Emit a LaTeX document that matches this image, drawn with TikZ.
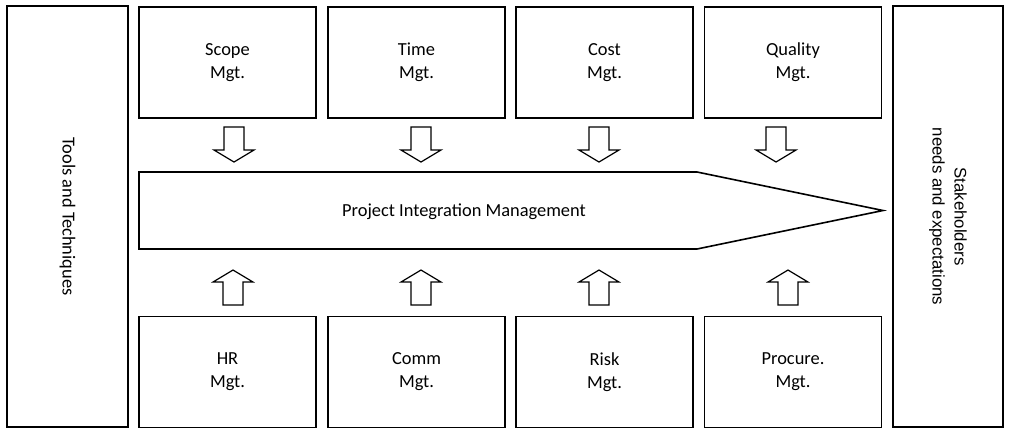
\documentclass[tikz,border=0pt]{standalone}
\usepackage{fontspec}
\setmainfont{Carlito}
\newfontfamily\stakefont{Liberation Sans}
\usetikzlibrary{positioning}

\begin{document}
\begin{tikzpicture}[
    x=0.75pt, y=-0.75pt,
    mgtbox/.style={rectangle, draw=black, line width=1.2pt, minimum width=132.75pt,
                   minimum height=83.25pt, align=center, text centered,
                   font=\fontsize{13.8}{17.25}\selectfont},
    sidebox/.style={rectangle, draw=black, line width=1.2pt, minimum width=315.75pt,
                    align=center, rotate=-90},
    blockarrow/.pic={
        \draw[line width=0.9pt, fill=white] (-10,-17.5) -- (10,-17.5) -- (10,5.5) -- (20,5.5)
            -- (0,17.5) -- (-20,5.5) -- (-10,5.5) -- cycle;
    }
]
\useasboundingbox (0,0) rectangle (1009,433);

% side boxes
\node (tools) [sidebox, minimum height=90.75pt, font=\fontsize{13.8}{17.25}\selectfont]
    at (67.5,216.5) {Tools and Techniques};
\node (stake) [sidebox, minimum height=82.5pt, font=\stakefont\fontsize{12.6}{16.5}\selectfont]
    at (948,216.5) {Stakeholders\\needs and expectations};

% knowledge areas
\node (scope) [mgtbox] at (227.5,62.5) {Scope\\Mgt.};
\node (time) [mgtbox] at (416.5,62.5) {Time\\Mgt.};
\node (cost) [mgtbox] at (604.5,62.5) {Cost\\Mgt.};
\node (quality) [mgtbox] at (793,62.5) {Quality\\Mgt.};

\node (hr) [mgtbox] at (227.5,372) {HR\\Mgt.};
\node (comm) [mgtbox] at (416.5,372) {Comm\\Mgt.};
\node (risk) [mgtbox] at (604.5,372) {Risk\\Mgt.};
\node (procure) [mgtbox] at (793,372) {Procure.\\Mgt.};

% integration arrow
\draw[line width=1.2pt] (139,172) -- (697,172) -- (883,210.5) -- (697,249) -- (139,249) -- cycle;
\node (pim) at (464,211.5) {\fontsize{13.8}{17.25}\selectfont Project Integration Management};

% block arrows
\pic at (234,144.5) {blockarrow};
\pic at (421,144.5) {blockarrow};
\pic at (599,144.5) {blockarrow};
\pic at (776,144.5) {blockarrow};

\pic[rotate=180] at (233,287.5) {blockarrow};
\pic[rotate=180] at (421,287.5) {blockarrow};
\pic[rotate=180] at (599,287.5) {blockarrow};
\pic[rotate=180] at (788,287.5) {blockarrow};

\end{tikzpicture}
\end{document}
